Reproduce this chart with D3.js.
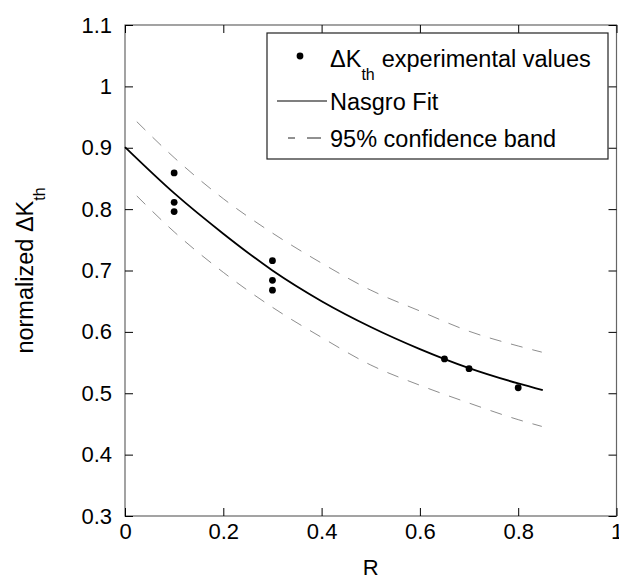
<!DOCTYPE html>
<html>
<head>
<meta charset="utf-8">
<script src="https://cdn.jsdelivr.net/npm/d3@7"></script>
<style>
  body { margin: 0; background: #fff; }
  text { font-family: "Liberation Sans", Arial, Helvetica, sans-serif; }
</style>
</head>
<body>
<div id="wrapper"></div>
<script>
// experimental points
const pointR = [0.1, 0.1, 0.1, 0.3, 0.3, 0.3, 0.65, 0.7, 0.8];
const pointDk = [0.859, 0.811, 0.796, 0.716, 0.684, 0.668, 0.556, 0.540, 0.509];

// Nasgro fit
const fitR = [0, 0.1, 0.2, 0.3, 0.4, 0.5, 0.6, 0.7, 0.8, 0.85];
const fitDk = [0.901, 0.826, 0.760, 0.700, 0.650, 0.608, 0.572, 0.541, 0.516, 0.505];

// 95% confidence band
const bandR = [0.024, 0.1, 0.2, 0.3, 0.4, 0.5, 0.6, 0.7, 0.8, 0.848];
const upperDk = [0.9425, 0.884, 0.817, 0.761, 0.712, 0.668, 0.634, 0.601, 0.577, 0.567];
const lowerDk = [0.8215, 0.763, 0.697, 0.640, 0.591, 0.546, 0.513, 0.484, 0.457, 0.446];

const xTicks = [0, 0.2, 0.4, 0.6, 0.8, 1];
const yTicks = [0.3, 0.4, 0.5, 0.6, 0.7, 0.8, 0.9, 1, 1.1];

const legendLabels = ["experimental values", "Nasgro Fit", "95% confidence band"];

function drawChart() {
    let dimensions = {
        width: 619,
        height: 580,
        margin: { top: 25, right: 2.5, bottom: 64, left: 125 }
    };
    dimensions.boundedWidth = dimensions.width
        - dimensions.margin.left
        - dimensions.margin.right;
    dimensions.boundedHeight = dimensions.height
        - dimensions.margin.top
        - dimensions.margin.bottom;

    const svg = d3.select("#wrapper").append("svg")
        .attr("width", dimensions.width)
        .attr("height", dimensions.height);
    const bounds = svg.append("g")
        .attr("transform", `translate(${dimensions.margin.left},${dimensions.margin.top})`);

    // scales
    const xScale = d3.scaleLinear()
        .domain([0, 1])
        .range([0, dimensions.boundedWidth]);
    const yScale = d3.scaleLinear()
        .domain([0.3, 1.1])
        .range([dimensions.boundedHeight, 0]);

    // box
    bounds.append("rect")
        .attr("width", dimensions.boundedWidth)
        .attr("height", dimensions.boundedHeight)
        .attr("fill", "none")
        .attr("stroke", "#666")
        .attr("stroke-width", 1.2);

    // axes, ticks pointing inward like matlab
    const fmt = d => String(d);
    const xAxis = bounds.append("g")
        .attr("transform", `translate(0,${dimensions.boundedHeight})`)
        .call(d3.axisBottom(xScale).tickValues(xTicks).tickFormat(fmt)
            .tickSizeInner(-8).tickSizeOuter(0).tickPadding(7));
    const xAxisTop = bounds.append("g")
        .call(d3.axisTop(xScale).tickValues(xTicks).tickFormat("")
            .tickSizeInner(-8).tickSizeOuter(0));
    const yAxis = bounds.append("g")
        .call(d3.axisLeft(yScale).tickValues(yTicks).tickFormat(fmt)
            .tickSizeInner(-8).tickSizeOuter(0).tickPadding(13));
    const yAxisRight = bounds.append("g")
        .attr("transform", `translate(${dimensions.boundedWidth},0)`)
        .call(d3.axisRight(yScale).tickValues(yTicks).tickFormat("")
            .tickSizeInner(-8).tickSizeOuter(0));

    [xAxis, xAxisTop, yAxis, yAxisRight].forEach(a => {
        a.select(".domain").remove();
        a.selectAll(".tick line").attr("stroke", "#000").attr("stroke-width", 1);
        a.selectAll("text")
            .attr("font-size", 22)
            .attr("fill", "#000")
            .style("font-family", '"Liberation Sans", Arial, sans-serif');
    });

    // axis labels
    svg.append("text")
        .attr("x", dimensions.margin.left + dimensions.boundedWidth / 2)
        .attr("y", 575)
        .attr("text-anchor", "middle")
        .attr("font-size", 22)
        .text("R");

    const yLabel = svg.append("text")
        .attr("transform", `translate(33,${dimensions.margin.top + dimensions.boundedHeight / 2}) rotate(-90)`)
        .attr("text-anchor", "middle")
        .attr("font-size", 23.5);
    yLabel.append("tspan").text("normalized \u0394K");
    yLabel.append("tspan").attr("font-size", 16).attr("dy", 12).text("th");

    // lines
    const lineGenerator = d3.line()
        .x(d => xScale(d[0]))
        .y(d => yScale(d[1]))
        .curve(d3.curveMonotoneX);

    const bandStyle = sel => sel
        .attr("fill", "none")
        .attr("stroke", "#808080")
        .attr("stroke-width", 0.9)
        .attr("stroke-dasharray", "12,10");

    bounds.append("path")
        .datum(d3.zip(bandR, upperDk))
        .attr("d", lineGenerator)
        .call(bandStyle);
    bounds.append("path")
        .datum(d3.zip(bandR, lowerDk))
        .attr("d", lineGenerator)
        .call(bandStyle);

    bounds.append("path")
        .datum(d3.zip(fitR, fitDk))
        .attr("d", lineGenerator)
        .attr("fill", "none")
        .attr("stroke", "#000")
        .attr("stroke-width", 1.8);

    bounds.selectAll("circle.pt")
        .data(d3.zip(pointR, pointDk))
        .enter().append("circle")
        .attr("class", "pt")
        .attr("cx", d => xScale(d[0]))
        .attr("cy", d => yScale(d[1]))
        .attr("r", 3.4)
        .attr("fill", "#000");

    // legend
    const legend = svg.append("g").attr("transform", "translate(267,33)");
    legend.append("rect")
        .attr("width", 341)
        .attr("height", 126)
        .attr("fill", "#fff")
        .attr("stroke", "#222")
        .attr("stroke-width", 1.2);

    legend.append("circle")
        .attr("cx", 33).attr("cy", 23).attr("r", 3.4).attr("fill", "#000");
    const t0 = legend.append("text")
        .attr("x", 63).attr("y", 34).attr("font-size", 23.5);
    t0.append("tspan").text("\u0394K");
    t0.append("tspan").attr("font-size", 16).attr("dy", 13).text("th");
    t0.append("tspan").attr("dy", -13).attr("dx", 7).text(legendLabels[0]);

    legend.append("line")
        .attr("x1", 10).attr("x2", 60).attr("y1", 68).attr("y2", 68)
        .attr("stroke", "#000").attr("stroke-width", 1.2);
    legend.append("text")
        .attr("x", 63).attr("y", 77).attr("font-size", 23.5).text(legendLabels[1]);

    legend.append("line")
        .attr("x1", 21).attr("x2", 60).attr("y1", 105).attr("y2", 105)
        .attr("stroke", "#222").attr("stroke-width", 1)
        .attr("stroke-dasharray", "7,12,14,50");
    legend.append("text")
        .attr("x", 63).attr("y", 114).attr("font-size", 23.5).text(legendLabels[2]);
}

drawChart();
</script>
</body>
</html>
